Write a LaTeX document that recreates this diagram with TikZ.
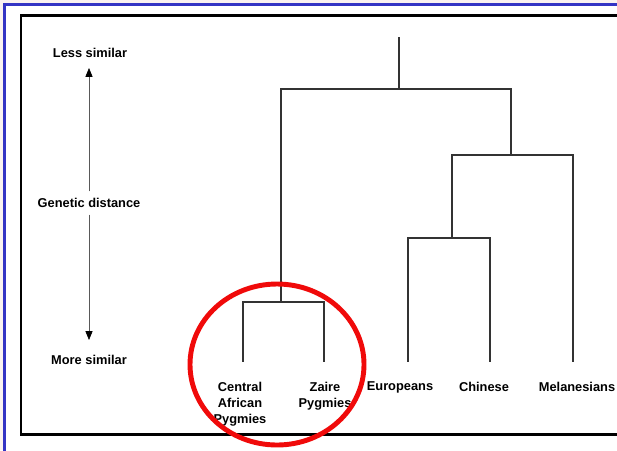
\documentclass[tikz,border=0pt]{standalone}
\usepackage{fontspec}
\setmainfont{Liberation Sans}
\usetikzlibrary{calc,positioning}
\usetikzlibrary{arrows.meta}
\definecolor{slideblue}{RGB}{52,52,196}
\definecolor{slidebg}{RGB}{250,242,240}
\definecolor{ringred}{RGB}{240,10,10}

\begin{document}
\begin{tikzpicture}[x=0.02cm,y=-0.02cm,
  lab/.style={font=\bfseries\fontsize{7.3}{9}\selectfont,align=center,inner sep=1pt},
  branch/.style={line width=0.8pt,draw=black!80},
  axis/.style={line width=0.4pt,draw=black!65,-{Triangle[width=4pt,length=5pt,black]},shorten <=2.8pt}]
\useasboundingbox(0,0)rectangle(617,450);
\clip(0,0)rectangle(617,450);
\fill[slidebg](0,0)rectangle(617,450);
\filldraw[fill=white,draw=slideblue,line width=1.7pt](4.5,4.5)rectangle(640,470);
\draw[line width=1.4pt](21,15.5)rectangle(640,434.5);
% axis on the left
\node[lab](less)at(90,53){Less similar};
\node[lab](gd)at(89,203){Genetic distance};
\node[lab](more)at(89,360){More similar};
\coordinate(uptip)at(89,68);\coordinate(dntip)at(89,340);
\draw[axis](gd.north)--(uptip);
\draw[axis](gd.south)--(dntip);
% tree
\coordinate(root)at(399,37);\coordinate(top)at(399,89);
\coordinate(pyg)at(281,302);
\coordinate(cap)at(243,362);\coordinate(zai)at(324,362);
\coordinate(nonaf)at(511,155);\coordinate(eurchi)at(452,238);
\coordinate(eur)at(408,362);\coordinate(chi)at(490,362);
\coordinate(mel)at(573,362);
\draw[branch](root)--(top);
\draw[branch](top)-|(pyg);
\draw[branch](top)-|(nonaf);
\draw[branch](pyg)-|(cap);
\draw[branch](pyg)-|(zai);
\draw[branch](nonaf)-|(eurchi);
\draw[branch](nonaf)-|(mel);
\draw[branch](eurchi)-|(eur);
\draw[branch](eurchi)-|(chi);
% leaf labels
\node[lab,anchor=north](capl)at($(cap)+(-3,18)$){Central\\African\\Pygmies};
\node[lab,anchor=north](zail)at($(zai)+(1,18)$){Zaire\\Pygmies};
\node[lab,anchor=north](eurl)at($(eur)+(-8,18)$){Europeans};
\node[lab,anchor=north](chil)at($(chi)+(-6,18)$){Chinese};
\node[lab,anchor=north](mell)at($(mel)+(4,18)$){Melanesians};
% highlight
\draw[ringred,line width=2.8pt](277,364.5)ellipse[x radius=87,y radius=80.5];
\end{tikzpicture}
\end{document}
